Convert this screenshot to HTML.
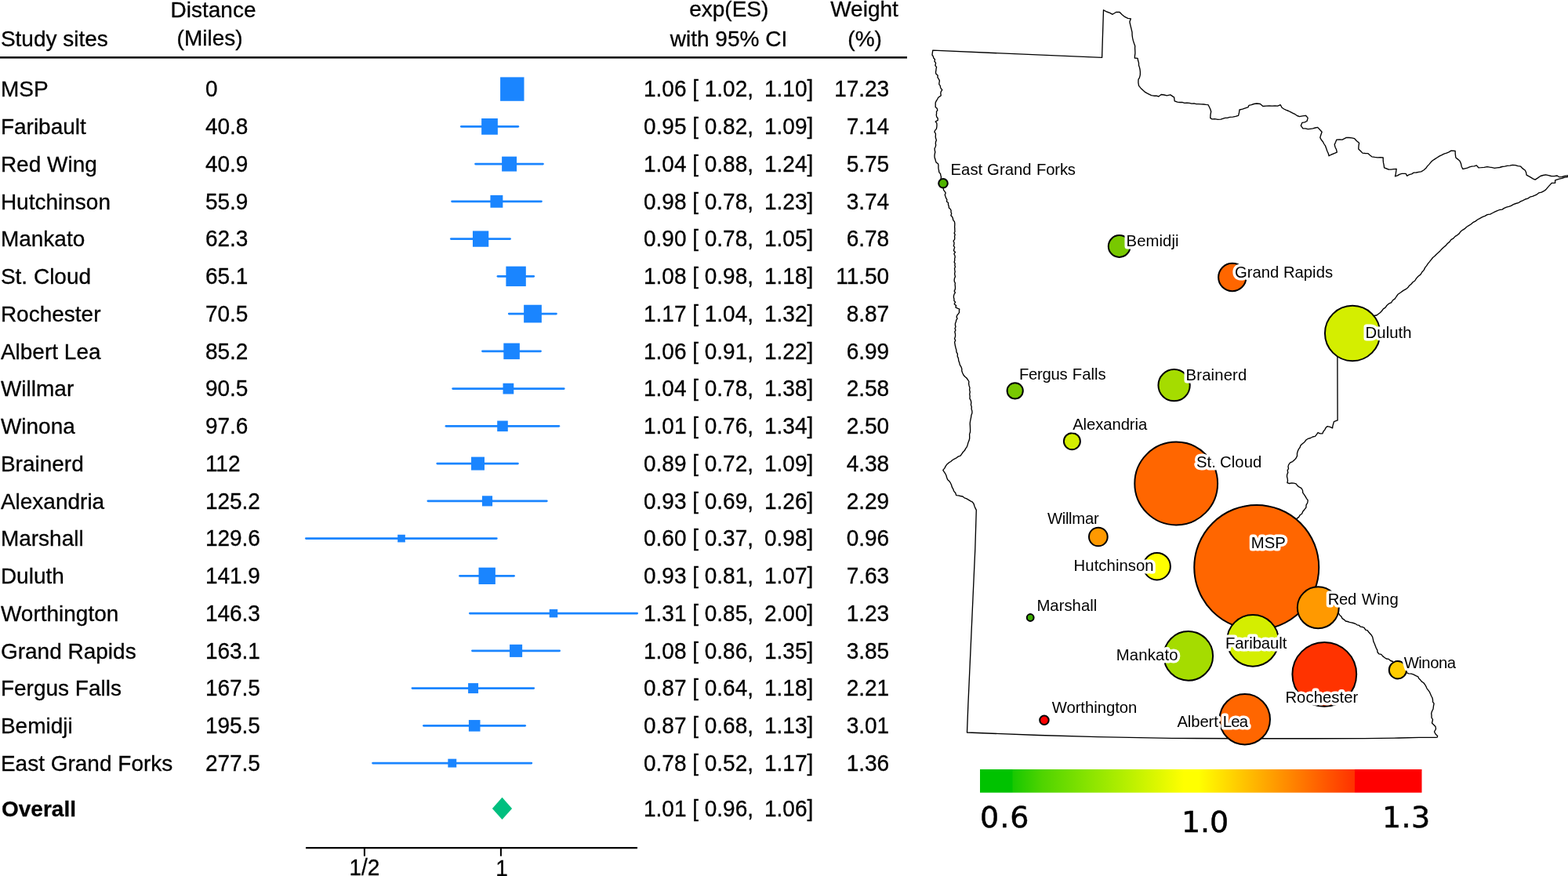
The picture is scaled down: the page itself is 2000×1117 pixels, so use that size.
<!DOCTYPE html>
<html lang="en"><head><meta charset="utf-8"><title>Forest plot and map of study sites</title>
<style>
html,body{margin:0;padding:0;background:#fff;}
body{width:2000px;height:1117px;overflow:hidden;}
svg{display:block;}
.t{font-family:"Liberation Sans",Arial,Helvetica,sans-serif;font-size:28px;fill:#000;stroke:#000;stroke-width:0.3px;}
.b{font-weight:bold;}
.m{font-family:"Liberation Sans",Arial,Helvetica,sans-serif;font-size:20.3px;fill:#000;stroke:#fff;stroke-width:7.2px;stroke-linejoin:round;stroke-linecap:round;paint-order:stroke fill;}
.n{font-family:"Liberation Sans",Arial,Helvetica,sans-serif;font-size:20px;fill:#000;}
.c{font-family:"DejaVu Sans",Verdana,sans-serif;font-size:38px;fill:#000;stroke:#000;stroke-width:0.5px;}
.k{stroke:#000;stroke-width:2px;}
</style></head><body>
<svg width="2000" height="1117" viewBox="0 0 2000 1117">
<rect x="0" y="0" width="2000" height="1117" fill="#fff"/>
<g class="t">
<text x="0.9" y="59">Study sites</text>
<text x="272" y="22" text-anchor="middle">Distance</text>
<text x="267.6" y="58" text-anchor="middle">(Miles)</text>
<text x="929.8" y="21" text-anchor="middle">exp(ES)</text>
<text x="929.5" y="59" text-anchor="middle">with 95% CI</text>
<text x="1102.5" y="21" text-anchor="middle">Weight</text>
<text x="1103.1" y="59" text-anchor="middle">(%)</text>
</g>
<rect x="0" y="72" width="1157" height="2.6" fill="#111"/>
<g class="t">
<text x="0.9" y="123">MSP</text>
<text x="0.9" y="171">Faribault</text>
<text x="0.9" y="219">Red Wing</text>
<text x="0.9" y="267">Hutchinson</text>
<text x="0.9" y="314">Mankato</text>
<text x="0.9" y="362">St. Cloud</text>
<text x="0.9" y="410">Rochester</text>
<text x="0.9" y="458">Albert Lea</text>
<text x="0.9" y="505">Willmar</text>
<text x="0.9" y="553">Winona</text>
<text x="0.9" y="601">Brainerd</text>
<text x="0.9" y="649">Alexandria</text>
<text x="0.9" y="696">Marshall</text>
<text x="0.9" y="744">Duluth</text>
<text x="0.9" y="792">Worthington</text>
<text x="0.9" y="840">Grand Rapids</text>
<text x="0.9" y="887">Fergus Falls</text>
<text x="0.9" y="935">Bemidji</text>
<text x="0.9" y="983">East Grand Forks</text>
<text class="b" x="2" y="1041">Overall</text>
</g>
<g class="t" transform="scale(1,1.03)">
<text x="261.9" y="119.42">0</text>
<text x="821" y="119.42" xml:space="preserve">1.06 [ 1.02,<tspan dx="-1.6"> </tspan> 1.10]</text>
<text x="1134.2" y="119.42" text-anchor="end">17.23</text>
<text x="261.9" y="166.02">40.8</text>
<text x="821" y="166.02" xml:space="preserve">0.95 [ 0.82,<tspan dx="-1.6"> </tspan> 1.09]</text>
<text x="1134.2" y="166.02" text-anchor="end">7.14</text>
<text x="261.9" y="212.62">40.9</text>
<text x="821" y="212.62" xml:space="preserve">1.04 [ 0.88,<tspan dx="-1.6"> </tspan> 1.24]</text>
<text x="1134.2" y="212.62" text-anchor="end">5.75</text>
<text x="261.9" y="259.22">55.9</text>
<text x="821" y="259.22" xml:space="preserve">0.98 [ 0.78,<tspan dx="-1.6"> </tspan> 1.23]</text>
<text x="1134.2" y="259.22" text-anchor="end">3.74</text>
<text x="261.9" y="304.85">62.3</text>
<text x="821" y="304.85" xml:space="preserve">0.90 [ 0.78,<tspan dx="-1.6"> </tspan> 1.05]</text>
<text x="1134.2" y="304.85" text-anchor="end">6.78</text>
<text x="261.9" y="351.46">65.1</text>
<text x="821" y="351.46" xml:space="preserve">1.08 [ 0.98,<tspan dx="-1.6"> </tspan> 1.18]</text>
<text x="1134.2" y="351.46" text-anchor="end">11.50</text>
<text x="261.9" y="398.06">70.5</text>
<text x="821" y="398.06" xml:space="preserve">1.17 [ 1.04,<tspan dx="-1.6"> </tspan> 1.32]</text>
<text x="1134.2" y="398.06" text-anchor="end">8.87</text>
<text x="261.9" y="444.66">85.2</text>
<text x="821" y="444.66" xml:space="preserve">1.06 [ 0.91,<tspan dx="-1.6"> </tspan> 1.22]</text>
<text x="1134.2" y="444.66" text-anchor="end">6.99</text>
<text x="261.9" y="490.29">90.5</text>
<text x="821" y="490.29" xml:space="preserve">1.04 [ 0.78,<tspan dx="-1.6"> </tspan> 1.38]</text>
<text x="1134.2" y="490.29" text-anchor="end">2.58</text>
<text x="261.9" y="536.89">97.6</text>
<text x="821" y="536.89" xml:space="preserve">1.01 [ 0.76,<tspan dx="-1.6"> </tspan> 1.34]</text>
<text x="1134.2" y="536.89" text-anchor="end">2.50</text>
<text x="261.9" y="583.50">112</text>
<text x="821" y="583.50" xml:space="preserve">0.89 [ 0.72,<tspan dx="-1.6"> </tspan> 1.09]</text>
<text x="1134.2" y="583.50" text-anchor="end">4.38</text>
<text x="261.9" y="630.10">125.2</text>
<text x="821" y="630.10" xml:space="preserve">0.93 [ 0.69,<tspan dx="-1.6"> </tspan> 1.26]</text>
<text x="1134.2" y="630.10" text-anchor="end">2.29</text>
<text x="261.9" y="675.73">129.6</text>
<text x="821" y="675.73" xml:space="preserve">0.60 [ 0.37,<tspan dx="-1.6"> </tspan> 0.98]</text>
<text x="1134.2" y="675.73" text-anchor="end">0.96</text>
<text x="261.9" y="722.33">141.9</text>
<text x="821" y="722.33" xml:space="preserve">0.93 [ 0.81,<tspan dx="-1.6"> </tspan> 1.07]</text>
<text x="1134.2" y="722.33" text-anchor="end">7.63</text>
<text x="261.9" y="768.93">146.3</text>
<text x="821" y="768.93" xml:space="preserve">1.31 [ 0.85,<tspan dx="-1.6"> </tspan> 2.00]</text>
<text x="1134.2" y="768.93" text-anchor="end">1.23</text>
<text x="261.9" y="815.53">163.1</text>
<text x="821" y="815.53" xml:space="preserve">1.08 [ 0.86,<tspan dx="-1.6"> </tspan> 1.35]</text>
<text x="1134.2" y="815.53" text-anchor="end">3.85</text>
<text x="261.9" y="861.17">167.5</text>
<text x="821" y="861.17" xml:space="preserve">0.87 [ 0.64,<tspan dx="-1.6"> </tspan> 1.18]</text>
<text x="1134.2" y="861.17" text-anchor="end">2.21</text>
<text x="261.9" y="907.77">195.5</text>
<text x="821" y="907.77" xml:space="preserve">0.87 [ 0.68,<tspan dx="-1.6"> </tspan> 1.13]</text>
<text x="1134.2" y="907.77" text-anchor="end">3.01</text>
<text x="261.9" y="954.37">277.5</text>
<text x="821" y="954.37" xml:space="preserve">0.78 [ 0.52,<tspan dx="-1.6"> </tspan> 1.17]</text>
<text x="1134.2" y="954.37" text-anchor="end">1.36</text>
<text x="821" y="1010.68" xml:space="preserve">1.01 [ 0.96,<tspan dx="-1.6"> </tspan> 1.06]</text>
<text x="465" y="1083.50" text-anchor="middle">1/2</text>
<text x="640" y="1084.47" text-anchor="middle">1</text>
</g>
<g fill="#1a85ff" stroke="none">
<rect x="638.10" y="98.40" width="30.40" height="30.40"/>
<rect x="587.0" y="160.05" width="75.2" height="2.6" rx="1.3"/>
<rect x="614.14" y="150.99" width="20.73" height="20.73"/>
<rect x="605.2" y="207.80" width="88.6" height="2.6" rx="1.3"/>
<rect x="640.13" y="199.63" width="18.93" height="18.93"/>
<rect x="575.2" y="255.55" width="116.6" height="2.6" rx="1.3"/>
<rect x="625.45" y="248.90" width="15.90" height="15.90"/>
<rect x="574.0" y="303.30" width="77.9" height="2.6" rx="1.3"/>
<rect x="602.96" y="294.46" width="20.28" height="20.28"/>
<rect x="633.6" y="351.05" width="48.5" height="2.6" rx="1.3"/>
<rect x="645.39" y="339.64" width="25.43" height="25.43"/>
<rect x="647.9" y="398.80" width="62.9" height="2.6" rx="1.3"/>
<rect x="668.14" y="388.74" width="22.73" height="22.73"/>
<rect x="614.1" y="446.55" width="76.8" height="2.6" rx="1.3"/>
<rect x="642.33" y="437.58" width="20.54" height="20.54"/>
<rect x="576.3" y="494.30" width="144.3" height="2.6" rx="1.3"/>
<rect x="641.52" y="488.72" width="13.75" height="13.75"/>
<rect x="567.6" y="542.05" width="146.6" height="2.6" rx="1.3"/>
<rect x="634.20" y="536.55" width="13.59" height="13.59"/>
<rect x="556.4" y="589.80" width="105.4" height="2.6" rx="1.3"/>
<rect x="601.03" y="582.63" width="16.94" height="16.94"/>
<rect x="544.5" y="637.55" width="154.2" height="2.6" rx="1.3"/>
<rect x="614.93" y="632.28" width="13.15" height="13.15"/>
<rect x="389.0" y="685.30" width="245.7" height="2.6" rx="1.3"/>
<rect x="507.17" y="681.77" width="9.66" height="9.66"/>
<rect x="585.2" y="733.05" width="71.7" height="2.6" rx="1.3"/>
<rect x="610.54" y="723.69" width="21.32" height="21.32"/>
<rect x="598.0" y="780.80" width="216.0" height="2.6" rx="1.3"/>
<rect x="700.75" y="776.85" width="10.50" height="10.50"/>
<rect x="601.1" y="828.55" width="113.9" height="2.6" rx="1.3"/>
<rect x="650.06" y="821.81" width="16.08" height="16.08"/>
<rect x="524.6" y="876.30" width="157.5" height="2.6" rx="1.3"/>
<rect x="597.11" y="871.11" width="12.97" height="12.97"/>
<rect x="539.1" y="924.05" width="131.9" height="2.6" rx="1.3"/>
<rect x="597.90" y="918.05" width="14.60" height="14.60"/>
<rect x="474.2" y="971.80" width="205.0" height="2.6" rx="1.3"/>
<rect x="571.36" y="967.66" width="10.88" height="10.88"/>
</g>
<polygon points="627.9,1031 640.5,1016.8 653.1,1031 640.5,1045.1" fill="#00bf7f"/>
<g stroke="#000" stroke-width="2.05" fill="none">
<line x1="390" y1="1081.1" x2="813" y2="1081.1"/>
<line x1="464.9" y1="1081" x2="464.9" y2="1091.7"/>
<line x1="638.9" y1="1081" x2="638.9" y2="1091.7"/>
</g>
<polygon points="1189.8,64.2 1405.6,73.4 1407.5,12.8 1411.6,15.0 1415.5,16.4 1419.1,18.3 1423.6,15.5 1428.1,15.5 1431.0,18.4 1434.1,21.1 1438.6,23.3 1442.4,23.8 1440.9,27.8 1441.6,31.1 1442.4,34.3 1443.2,37.6 1444.0,41.1 1444.1,44.8 1444.6,48.4 1445.4,51.9 1446.5,55.3 1447.7,58.6 1447.6,61.7 1447.8,64.8 1447.9,67.9 1447.5,70.9 1447.3,74.0 1451.1,74.3 1451.6,77.3 1452.5,80.1 1452.5,83.2 1453.5,86.1 1454.1,89.0 1454.4,92.0 1454.3,95.7 1453.4,99.2 1452.0,101.4 1451.9,105.4 1452.6,109.4 1455.1,112.4 1457.9,115.1 1460.5,117.4 1463.5,119.2 1468.6,121.7 1471.7,122.2 1474.9,122.2 1477.9,123.0 1481.2,120.5 1484.8,121.0 1488.3,121.8 1492.8,120.9 1497.6,124.1 1498.2,128.9 1501.8,130.2 1504.8,130.5 1507.9,130.4 1510.8,131.4 1513.9,131.2 1516.9,131.3 1519.9,132.1 1523.0,131.8 1526.0,132.7 1529.0,132.6 1532.0,132.9 1535.1,133.0 1538.1,133.4 1541.1,133.7 1542.5,136.5 1543.8,139.3 1544.7,142.3 1544.0,146.3 1543.8,150.4 1545.6,151.8 1549.5,151.7 1553.3,152.3 1557.2,152.2 1562.6,150.4 1565.3,150.4 1568.8,149.4 1572.5,149.2 1576.1,148.4 1579.6,147.3 1580.5,143.7 1581.0,140.0 1584.8,139.1 1588.4,137.8 1592.1,136.6 1593.0,134.3 1596.3,133.7 1599.5,132.5 1602.9,132.0 1607.4,132.5 1610.9,135.5 1614.9,135.1 1619.0,134.8 1622.6,135.2 1626.1,134.8 1629.7,135.2 1633.3,133.7 1635.1,137.3 1637.7,139.0 1640.6,140.4 1643.5,141.5 1646.3,142.9 1649.1,144.3 1651.9,145.7 1654.5,147.5 1657.5,148.6 1661.5,147.9 1665.5,147.3 1668.2,150.4 1667.0,154.5 1664.1,155.8 1661.0,156.3 1659.3,160.2 1661.9,163.8 1665.1,163.9 1668.2,164.7 1671.4,164.3 1674.5,163.9 1677.6,163.0 1680.7,162.4 1683.4,165.3 1686.1,168.3 1684.9,171.8 1683.8,175.4 1685.3,178.2 1687.4,180.7 1688.8,183.5 1690.6,186.2 1691.7,189.3 1692.8,192.5 1694.2,195.5 1695.1,198.7 1698.4,197.0 1701.9,195.6 1705.3,194.2 1704.6,190.8 1703.1,187.7 1702.2,184.4 1703.6,181.3 1704.9,178.1 1708.5,177.9 1712.1,178.1 1717.4,175.4 1720.9,175.5 1724.3,175.9 1727.7,176.7 1730.5,179.7 1733.6,182.3 1733.0,186.1 1732.8,190.0 1735.4,192.5 1737.9,195.1 1741.3,195.5 1744.7,195.6 1747.2,197.8 1749.8,199.8 1753.4,200.4 1757.0,200.8 1760.6,200.6 1764.2,201.0 1764.2,204.2 1764.5,207.4 1765.2,210.6 1765.6,213.8 1771.0,216.0 1774.4,216.1 1777.8,215.7 1781.2,215.5 1780.7,218.6 1780.3,221.7 1779.5,224.8 1782.4,223.9 1785.1,222.3 1788.0,221.4 1793.1,221.4 1794.8,224.3 1797.5,222.6 1800.6,221.8 1803.3,220.2 1806.5,220.0 1809.6,219.3 1812.7,218.9 1815.9,217.0 1818.7,214.6 1820.6,211.9 1822.8,209.6 1824.9,207.1 1827.2,204.8 1830.1,202.9 1833.0,201.0 1835.9,199.1 1839.1,197.6 1842.0,196.1 1845.2,195.2 1848.2,193.9 1851.0,192.2 1856.1,192.5 1856.3,196.8 1856.9,201.0 1859.5,203.1 1862.0,205.3 1863.5,208.6 1864.2,212.2 1865.8,215.5 1868.7,214.8 1871.7,214.1 1874.5,212.8 1877.4,212.2 1880.5,211.9 1883.3,210.9 1885.8,213.8 1889.5,213.6 1893.2,213.3 1896.9,212.6 1900.0,213.2 1903.2,213.7 1906.3,214.3 1909.6,213.8 1912.9,213.5 1916.1,212.5 1919.4,212.1 1922.6,211.3 1926.0,211.2 1929.2,210.4 1932.7,210.6 1936.0,211.7 1939.4,212.1 1942.2,214.9 1945.4,217.2 1946.6,220.0 1947.1,223.1 1949.8,224.7 1952.5,226.2 1955.2,227.8 1958.1,229.1 1961.5,226.9 1964.9,224.5 1968.3,223.5 1971.7,222.8 1975.1,223.6 1978.5,224.5 1982.4,224.6 1986.2,224.0 1988.8,225.7 1992.4,225.5 1995.9,224.4 1999.4,223.8 2003.0,223.6 2003.0,224.2 1999.5,225.5 1995.9,226.2 1992.4,227.3 1988.8,228.2 1983.6,229.9 1983.6,233.3 1979.4,233.3 1976.7,236.1 1974.2,238.9 1971.7,241.9 1969.1,243.7 1966.3,245.2 1963.0,245.8 1960.5,247.8 1957.7,249.2 1954.7,250.4 1951.5,251.2 1948.7,253.1 1945.5,254.0 1942.6,255.7 1939.5,256.9 1936.7,258.7 1933.5,259.5 1930.4,260.6 1927.5,262.3 1924.6,263.4 1921.6,264.2 1918.7,265.4 1916.0,267.1 1912.8,267.5 1910.0,268.7 1907.1,269.9 1903.9,271.5 1900.8,273.1 1897.2,273.6 1894.2,275.4 1890.9,276.7 1887.8,278.3 1884.7,280.0 1881.9,282.1 1878.8,283.7 1876.1,286.0 1873.1,287.8 1870.5,289.5 1868.3,291.7 1865.5,293.3 1863.1,295.2 1861.2,297.9 1858.8,299.8 1856.1,301.4 1853.9,303.9 1850.9,305.6 1848.9,308.4 1846.3,310.5 1844.1,313.1 1841.5,315.2 1839.1,317.5 1836.9,319.9 1834.7,322.1 1832.2,324.2 1830.0,326.5 1827.5,328.5 1825.5,331.1 1823.5,333.6 1821.4,336.1 1819.6,338.9 1817.6,341.4 1816.2,344.4 1813.8,347.0 1811.9,350.1 1809.0,352.3 1806.6,354.9 1804.7,358.0 1802.1,359.8 1800.0,362.2 1797.6,364.2 1795.7,366.8 1793.2,368.7 1789.7,370.6 1786.5,373.0 1783.2,375.2 1781.2,378.0 1779.3,380.9 1776.4,383.0 1774.6,385.9 1771.5,387.2 1768.9,389.5 1767.1,392.1 1764.4,393.9 1762.5,396.5 1760.3,398.8 1756.0,402.0 1750.0,403.0 1740.0,410.0 1725.0,420.0 1712.0,432.0 1706.0,442.0 1705.9,454.0 1706.1,535.9 1701.5,537.7 1700.7,540.4 1699.9,543.1 1699.6,545.9 1696.5,544.4 1693.1,543.6 1691.0,545.6 1689.7,548.1 1687.9,550.2 1686.8,552.9 1683.8,552.9 1681.0,551.7 1679.3,554.1 1677.5,556.4 1674.4,557.0 1671.6,558.5 1668.6,559.3 1665.9,561.0 1663.9,563.7 1661.3,565.7 1658.9,568.0 1658.1,570.5 1656.5,572.6 1655.4,575.0 1654.5,578.1 1654.5,581.4 1653.1,584.3 1651.0,586.6 1648.7,588.6 1645.7,589.9 1643.8,592.4 1643.0,594.9 1643.5,597.5 1642.2,599.9 1642.8,602.6 1641.7,605.0 1641.5,607.6 1642.2,610.3 1642.5,613.0 1641.9,615.7 1644.6,616.5 1647.5,615.9 1650.3,616.2 1653.1,616.9 1655.0,619.4 1657.4,621.2 1660.1,622.7 1661.5,625.3 1661.8,628.4 1663.6,630.8 1665.1,633.2 1666.5,635.6 1668.2,637.8 1667.8,641.0 1666.1,643.9 1665.9,647.1 1663.9,649.7 1661.8,652.2 1660.5,655.3 1658.1,656.8 1656.6,659.4 1654.3,661.1 1653.0,664.2 1651.9,667.2 1650.0,670.0 1650.9,672.4 1651.4,674.9 1651.5,677.5 1651.5,680.0 1652.8,682.4 1652.3,685.0 1653.1,687.5 1653.6,690.0 1653.3,692.6 1654.2,695.0 1654.8,697.5 1655.0,700.0 1655.9,702.5 1656.4,705.1 1658.1,707.3 1657.7,710.2 1659.8,712.3 1659.7,715.1 1660.4,717.7 1662.3,719.8 1662.1,722.6 1663.5,724.9 1664.1,727.5 1665.0,730.0 1667.0,731.9 1668.3,734.2 1669.5,736.6 1669.9,739.4 1672.2,741.1 1672.9,743.8 1674.0,746.2 1675.4,748.5 1677.5,750.3 1678.8,752.6 1680.0,755.0 1682.0,756.7 1683.8,758.7 1686.4,759.7 1687.8,762.1 1689.7,763.8 1691.7,765.6 1694.4,766.4 1695.6,769.1 1698.4,769.9 1700.0,772.0 1702.3,773.8 1704.3,776.1 1706.6,778.0 1707.1,781.4 1708.8,784.4 1710.8,786.1 1712.1,788.6 1714.4,790.1 1716.3,792.0 1718.8,792.5 1721.3,793.3 1723.8,793.8 1726.3,794.5 1728.7,795.3 1731.0,796.8 1733.5,797.3 1735.3,799.2 1738.0,799.5 1740.2,800.7 1741.7,803.1 1744.2,803.8 1745.8,806.0 1747.6,808.0 1749.4,810.0 1750.7,812.4 1751.4,815.3 1752.0,818.3 1753.3,821.0 1754.3,823.7 1755.3,826.3 1756.7,828.8 1757.1,831.7 1758.9,833.8 1761.8,834.4 1763.6,836.6 1765.7,838.2 1768.2,840.0 1771.3,840.4 1773.7,842.5 1776.5,843.5 1777.5,846.0 1779.4,847.9 1780.7,850.1 1782.5,852.0 1785.5,852.9 1788.1,854.7 1791.0,855.7 1793.6,857.5 1796.7,858.8 1800.1,859.2 1803.1,860.2 1805.9,861.6 1808.7,862.9 1809.9,865.3 1811.8,867.1 1813.4,869.1 1815.6,870.5 1817.3,872.5 1818.8,875.1 1820.0,877.8 1821.8,880.2 1823.6,882.7 1824.8,885.4 1825.8,887.7 1827.0,890.0 1827.5,892.4 1827.6,895.1 1829.1,897.2 1828.5,900.0 1828.0,904.0 1826.5,907.0 1825.7,909.6 1826.0,912.3 1826.0,915.0 1827.5,917.5 1826.5,922.0 1828.8,924.2 1831.0,926.5 1831.5,929.5 1829.5,933.0 1831.0,936.0 1833.6,938.6 1833.2,940.1 1831.0,940.3 1810.0,940.3 1784.0,941.0 1740.0,941.6 1675.0,941.7 1585.0,941.7 1495.0,941.4 1400.0,939.7 1325.0,937.5 1233.5,934.0 1234.8,900.0 1243.8,700.0 1245.3,650.4 1244.0,647.9 1242.9,645.3 1242.1,642.5 1240.4,640.2 1237.9,638.8 1235.4,637.3 1232.9,635.8 1230.1,634.8 1227.8,633.0 1225.1,632.5 1222.4,631.9 1219.7,631.6 1218.8,628.8 1216.8,626.4 1215.8,623.7 1214.3,621.1 1213.5,618.2 1212.3,615.7 1210.7,613.4 1208.6,611.4 1207.6,608.8 1206.9,606.2 1205.7,603.8 1204.2,601.7 1202.8,599.4 1204.8,597.1 1206.2,594.4 1208.0,591.9 1210.3,589.9 1212.8,588.5 1215.0,586.5 1217.5,585.2 1220.0,583.8 1222.3,582.1 1225.1,581.1 1226.7,578.8 1228.3,576.5 1230.3,574.6 1231.6,572.1 1233.2,569.8 1234.2,567.2 1234.9,564.4 1236.0,561.8 1236.7,559.0 1236.7,556.3 1236.6,553.6 1237.5,551.0 1237.6,548.3 1237.5,545.6 1237.4,542.9 1237.2,540.2 1237.5,537.5 1238.0,534.8 1238.6,532.1 1238.9,529.4 1239.9,526.8 1239.9,524.1 1239.1,521.4 1239.3,518.7 1238.4,516.1 1238.8,513.3 1238.3,510.6 1236.9,508.1 1237.2,505.3 1236.7,502.6 1237.3,499.9 1236.6,497.2 1237.0,494.5 1236.1,491.9 1235.6,489.2 1235.9,486.5 1234.4,484.2 1232.9,482.0 1230.8,480.2 1229.0,478.2 1227.8,475.7 1226.8,473.1 1226.8,470.2 1225.8,467.6 1224.3,465.1 1223.7,462.4 1222.7,459.7 1222.4,456.9 1221.2,454.3 1221.4,451.4 1220.0,448.9 1219.8,446.1 1219.0,443.5 1218.4,440.8 1218.0,438.6 1217.6,436.3 1218.7,434.1 1217.5,431.8 1218.4,429.6 1218.6,427.5 1218.4,425.3 1217.8,423.1 1218.9,421.0 1218.0,418.8 1219.0,416.7 1218.4,414.5 1218.5,412.3 1219.4,410.2 1219.7,408.1 1221.0,406.3 1220.1,403.9 1220.9,401.9 1222.3,400.2 1223.6,398.4 1223.4,396.1 1223.8,394.1 1221.3,393.2 1218.9,391.9 1219.6,389.6 1217.2,387.8 1218.5,385.3 1216.9,383.4 1217.0,381.2 1216.4,379.1 1216.5,377.1 1217.1,375.1 1218.4,373.2 1217.2,371.1 1218.2,369.1 1218.5,367.1 1218.4,365.1 1218.1,363.0 1218.4,361.0 1217.3,358.9 1217.2,356.8 1217.5,354.8 1218.5,352.7 1217.9,350.6 1217.6,348.6 1218.2,346.5 1217.8,344.4 1217.5,342.3 1218.5,340.3 1217.8,338.2 1218.2,336.1 1217.1,334.1 1217.8,332.0 1217.6,329.9 1218.3,327.8 1217.9,325.8 1216.9,323.7 1218.4,321.6 1216.4,319.6 1217.0,317.5 1217.7,315.4 1216.3,313.4 1217.0,311.3 1217.0,309.3 1216.1,307.2 1217.6,305.3 1217.8,303.3 1217.5,301.2 1218.2,299.2 1217.1,297.2 1218.0,295.2 1217.8,293.2 1217.8,291.1 1217.6,289.1 1217.8,287.1 1217.8,284.7 1217.4,282.5 1215.7,280.6 1215.4,278.4 1214.4,276.3 1212.9,274.7 1213.7,272.3 1213.0,270.5 1213.1,268.3 1212.1,266.5 1210.4,265.0 1210.3,262.9 1209.5,260.9 1209.5,258.6 1207.5,256.9 1207.9,254.6 1206.7,252.7 1206.0,250.6 1205.2,248.5 1206.2,246.0 1205.0,244.1 1203.6,242.3 1203.2,240.2 1202.9,238.1 1203.3,235.8 1201.1,234.3 1201.2,232.1 1200.8,230.0 1200.1,228.0 1200.5,225.7 1199.9,223.6 1199.5,221.5 1197.8,219.6 1197.6,217.5 1197.1,215.4 1196.9,213.2 1197.0,210.8 1196.5,208.7 1194.1,207.1 1193.4,205.0 1192.8,202.8 1192.1,200.7 1192.0,198.4 1192.3,196.2 1192.8,194.0 1192.3,191.6 1192.1,189.3 1193.2,187.2 1193.7,185.0 1193.3,182.9 1193.6,180.8 1194.4,178.7 1193.7,176.6 1193.2,174.5 1193.4,172.4 1193.4,170.3 1191.9,168.2 1192.8,166.1 1194.4,164.4 1194.8,162.2 1195.0,160.0 1194.9,157.2 1193.2,155.0 1196.2,153.4 1196.2,151.0 1194.7,148.9 1194.3,146.6 1194.6,144.5 1194.5,142.4 1195.8,140.6 1195.2,138.2 1193.2,136.4 1193.2,133.8 1193.2,131.0 1194.3,128.6 1195.8,126.3 1196.8,124.3 1198.6,123.1 1200.3,121.8 1199.8,119.2 1200.2,116.8 1201.8,114.6 1200.3,113.0 1199.5,111.2 1199.2,109.1 1197.8,107.6 1198.0,105.3 1198.4,102.9 1197.3,100.7 1195.9,98.6 1196.2,96.2 1193.8,94.0 1193.5,91.9 1193.9,89.8 1194.1,87.7 1194.6,85.7 1192.9,83.5 1193.6,80.4 1192.0,78.2 1192.5,75.8 1190.8,74.0 1190.3,71.9 1189.0,70.0 1189.3,67.7 1189.8,64.2" fill="#fff" stroke="#000" stroke-width="1.35" stroke-linejoin="round"/>
<g class="k">
<circle cx="1602.75" cy="723.40" r="79.50" fill="#ff6600"/>
<circle cx="1500.20" cy="616.50" r="52.90" fill="#ff6600"/>
<circle cx="1689.30" cy="859.80" r="40.88" fill="#ff3300"/>
<circle cx="1725.10" cy="425.00" r="35.15" fill="#d4ee00"/>
<circle cx="1598.00" cy="816.85" r="32.85" fill="#d4ee00"/>
<circle cx="1587.80" cy="917.20" r="32.19" fill="#ff6600"/>
<circle cx="1515.80" cy="836.40" r="31.30" fill="#a5dc00"/>
<circle cx="1681.30" cy="774.80" r="26.46" fill="#ff9900"/>
<circle cx="1497.60" cy="491.20" r="20.14" fill="#a5dc00"/>
<circle cx="1571.80" cy="353.50" r="17.69" fill="#ff6600"/>
<circle cx="1475.70" cy="722.20" r="17.18" fill="#ffff00"/>
<circle cx="1427.70" cy="314.00" r="13.90" fill="#78c800"/>
<circle cx="1400.85" cy="684.50" r="11.85" fill="#ff9900"/>
<circle cx="1782.95" cy="854.25" r="11.15" fill="#ffcc00"/>
<circle cx="1367.40" cy="562.70" r="10.48" fill="#d4ee00"/>
<circle cx="1294.70" cy="498.30" r="10.11" fill="#78c800"/>
<circle cx="1203.00" cy="233.80" r="5.80" fill="#50b400"/>
<circle cx="1331.95" cy="918.35" r="5.75" fill="#ff0000"/>
<circle cx="1314.20" cy="787.50" r="4.40" fill="#3cac00"/>
</g>
<g class="m">
<text y="223"><tspan x="1212.58" style="letter-spacing:0.000px">East</tspan> <tspan x="1259.10" style="letter-spacing:0.025px">Grand</tspan> <tspan x="1321.98" style="letter-spacing:-0.169px">Forks</tspan></text>
<text x="1436.58" y="314" style="letter-spacing:0.083px">Bemidji</text>
<text y="354"><tspan x="1574.95" style="letter-spacing:0.013px">Grand</tspan> <tspan x="1636.88" style="letter-spacing:0.010px">Rapids</tspan></text>
<text x="1741.62" y="431" style="letter-spacing:0.045px">Duluth</text>
<text y="484"><tspan x="1299.88" style="letter-spacing:-0.260px">Fergus</tspan> <tspan x="1367.83" style="letter-spacing:0.013px">Falls</tspan></text>
<text x="1512.58" y="485" style="letter-spacing:0.150px">Brainerd</text>
<text x="1368.17" y="548" style="letter-spacing:-0.083px">Alexandria</text>
<text y="596"><tspan x="1525.90" style="letter-spacing:0.050px">St.</tspan> <tspan x="1556.05" style="letter-spacing:0.081px">Cloud</tspan></text>
<text x="1335.88" y="668" style="letter-spacing:-0.304px">Willmar</text>
<text x="1595.73" y="699" style="letter-spacing:0.100px">MSP</text>
<text x="1369.58" y="728" style="letter-spacing:0.067px">Hutchinson</text>
<text y="771"><tspan x="1693.67" style="letter-spacing:-0.325px">Red</tspan> <tspan x="1736.83" style="letter-spacing:0.267px">Wing</tspan></text>
<text x="1322.42" y="779" style="letter-spacing:0.032px">Marshall</text>
<text x="1563.03" y="827" style="letter-spacing:-0.072px">Faribault</text>
<text x="1423.67" y="842" style="letter-spacing:0.183px">Mankato</text>
<text x="1790.67" y="852" style="letter-spacing:-0.485px">Winona</text>
<text x="1639.42" y="896" style="letter-spacing:0.056px">Rochester</text>
<text x="1341.67" y="909" style="letter-spacing:-0.035px">Worthington</text>
<text y="927"><tspan x="1501.38" style="letter-spacing:-0.100px">Albert</tspan> <tspan x="1559.73" style="letter-spacing:-0.800px">Lea</tspan></text>
</g>
<defs><linearGradient id="cb" x1="0" y1="0" x2="1" y2="0">
<stop offset="0.0000" stop-color="#00c200"/>
<stop offset="0.0728" stop-color="#00c200"/>
<stop offset="0.0745" stop-color="#18c800"/>
<stop offset="0.1420" stop-color="#50d400"/>
<stop offset="0.2484" stop-color="#8ae400"/>
<stop offset="0.3372" stop-color="#b9f000"/>
<stop offset="0.4082" stop-color="#e1f800"/>
<stop offset="0.4614" stop-color="#ffff00"/>
<stop offset="0.4951" stop-color="#ffff00"/>
<stop offset="0.6566" stop-color="#ffa100"/>
<stop offset="0.8474" stop-color="#ff3200"/>
<stop offset="0.8492" stop-color="#ff0000"/>
<stop offset="1.0000" stop-color="#ff0000"/>
</linearGradient></defs>
<rect x="1250.0" y="981" width="563.5" height="29.7" fill="url(#cb)"/>
<g class="c">
<text x="1250.00" y="1055" style="letter-spacing:1.00px">0.6</text>
<text x="1507.08" y="1061" style="letter-spacing:-0.17px">1.0</text>
<text x="1762.98" y="1055" style="letter-spacing:0.33px">1.3</text>
</g>
</svg>
</body></html>
